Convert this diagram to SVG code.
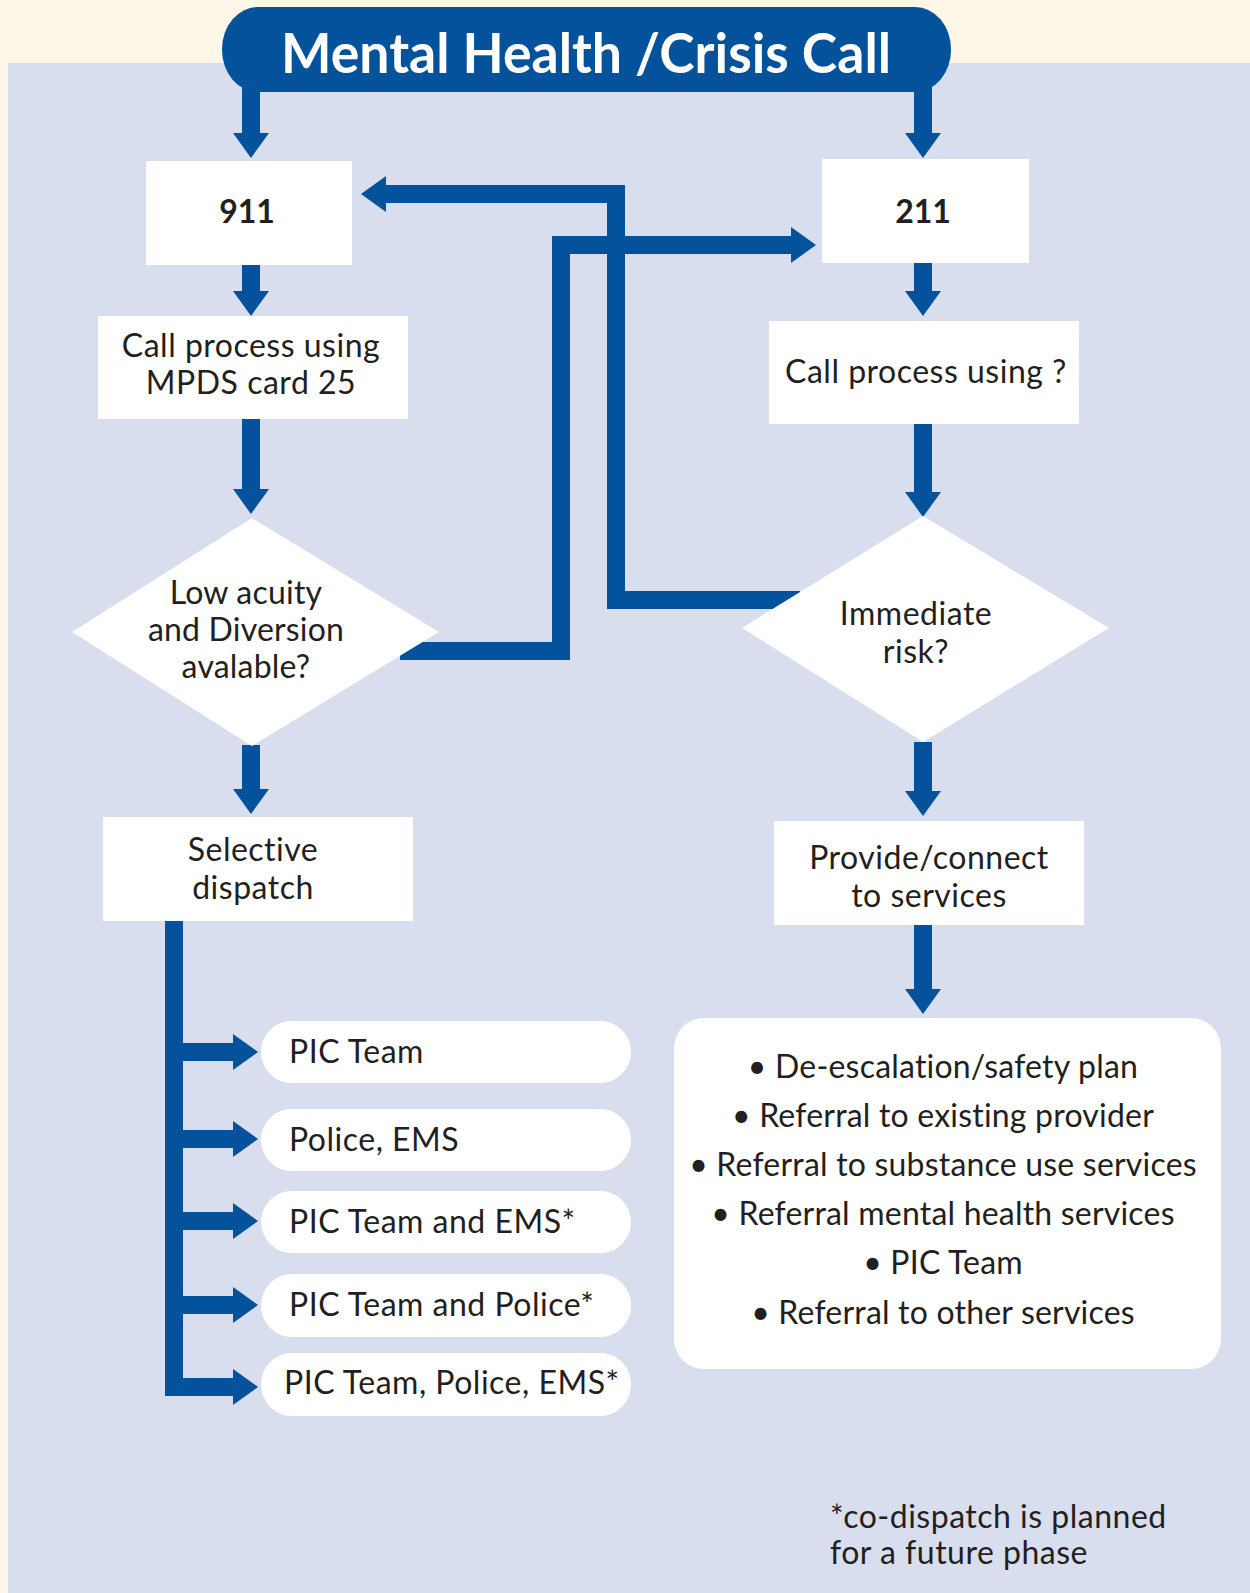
<svg xmlns="http://www.w3.org/2000/svg" width="1250" height="1593" viewBox="0 0 1250 1593">
<style>
.ln{fill:none;stroke:#03529B;stroke-width:18;stroke-linejoin:miter;stroke-linecap:butt}
.box{fill:#FFFFFF}
.t{font-family:Lato,"Open Sans",sans-serif;font-size:32px;letter-spacing:0.5px;fill:#231F20;text-anchor:middle}
.s{font-family:Lato,"Open Sans",sans-serif;font-size:32px;letter-spacing:0.2px;fill:#231F20;text-anchor:middle}
.tl{font-family:Lato,"Open Sans",sans-serif;font-size:32px;letter-spacing:0.5px;fill:#231F20}
.b{font-family:Lato,"Open Sans",sans-serif;font-size:32px;font-weight:bold;fill:#231F20;text-anchor:middle}
</style>
<defs>
<marker id="ah" markerUnits="userSpaceOnUse" markerWidth="25" markerHeight="36" viewBox="0 0 25 36" refX="0" refY="18" orient="auto">
<path d="M0,0 L25,18 L0,36 Z" fill="#03529B"/>
</marker>
</defs>
<rect x="0" y="0" width="1250" height="1593" fill="#FEF6E6"/>
<rect x="8" y="63" width="1242" height="1530" fill="#D8DEEE"/>
<g id="connectors">
<path class="ln" d="M251 80 V133" marker-end="url(#ah)"/>
<path class="ln" d="M923 80 V133" marker-end="url(#ah)"/>
<path class="ln" d="M251 265 V291" marker-end="url(#ah)"/>
<path class="ln" d="M923 263 V291" marker-end="url(#ah)"/>
<path class="ln" d="M251 419 V489" marker-end="url(#ah)"/>
<path class="ln" d="M923 424 V492" marker-end="url(#ah)"/>
<path class="ln" d="M251 745 V789" marker-end="url(#ah)"/>
<path class="ln" d="M923 742 V791" marker-end="url(#ah)"/>
<path class="ln" d="M923 925 V989" marker-end="url(#ah)"/>
<path class="ln" d="M400 651 H561 V245 H791" marker-end="url(#ah)"/>
<path class="ln" d="M800 600 H616 V194 H386" marker-end="url(#ah)"/>
<path class="ln" d="M174 915 V1387 H233" marker-end="url(#ah)"/>
<path class="ln" d="M174 1052 H233" marker-end="url(#ah)"/>
<path class="ln" d="M174 1139 H233" marker-end="url(#ah)"/>
<path class="ln" d="M174 1221 H233" marker-end="url(#ah)"/>
<path class="ln" d="M174 1305 H233" marker-end="url(#ah)"/>
</g>
<g id="title">
<rect x="222" y="7" width="729" height="85" rx="36" ry="42" fill="#03529B"/>
<text x="586" y="73" font-family="Lato,'Open Sans',sans-serif" font-size="55" font-weight="bold" fill="#FFFFFF" text-anchor="middle" textLength="610" lengthAdjust="spacingAndGlyphs">Mental Health /Crisis Call</text>
</g>
<g id="n911">
<rect class="box" x="146" y="161" width="206" height="104"/>
<text class="b" x="247" y="223">911</text>
</g>
<g id="n211">
<rect class="box" x="822" y="159" width="207" height="104"/>
<text class="b" x="923" y="223">211</text>
</g>
<g id="callLeft">
<rect class="box" x="98" y="316" width="310" height="103"/>
<text class="t" x="251" y="357">Call process using</text>
<text class="t" x="251" y="394">MPDS card 25</text>
</g>
<g id="callRight">
<rect class="box" x="769" y="321" width="310" height="103"/>
<text class="t" x="926" y="383">Call process using ?</text>
</g>
<g id="diamondLeft">
<polygon class="box" points="72,632 252,518 439,632 252,746"/>
<text class="s" x="246" y="604">Low acuity</text>
<text class="s" x="246" y="641">and Diversion</text>
<text class="s" x="246" y="678">avalable?</text>
</g>
<g id="diamondRight">
<polygon class="box" points="742,628 923,516 1109,628 923,742"/>
<text class="t" x="916" y="625">Immediate</text>
<text class="t" x="916" y="663">risk?</text>
</g>
<g id="selective">
<rect class="box" x="103" y="817" width="310" height="104"/>
<text class="t" x="253" y="861">Selective</text>
<text class="t" x="253" y="899">dispatch</text>
</g>
<g id="provide">
<rect class="box" x="774" y="821" width="310" height="104"/>
<text class="t" x="929" y="869">Provide/connect</text>
<text class="t" x="929" y="907">to services</text>
</g>
<g id="pic1">
<rect class="box" x="261" y="1021" width="370" height="62" rx="31"/>
<text class="tl" x="289" y="1063">PIC Team</text>
</g>
<g id="pic2">
<rect class="box" x="261" y="1109" width="370" height="62" rx="31"/>
<text class="tl" x="289" y="1151">Police, EMS</text>
</g>
<g id="pic3">
<rect class="box" x="261" y="1191" width="370" height="62" rx="31"/>
<text class="tl" x="289" y="1233">PIC Team and EMS*</text>
</g>
<g id="pic4">
<rect class="box" x="261" y="1274" width="370" height="63" rx="31"/>
<text class="tl" x="289" y="1316">PIC Team and Police*</text>
</g>
<g id="pic5">
<rect class="box" x="261" y="1353" width="370" height="63" rx="31"/>
<text class="tl" x="284" y="1394">PIC Team, Police, EMS*</text>
</g>
<g id="services">
<rect class="box" x="674" y="1018" width="547" height="351" rx="30"/>
<text class="s" x="943" y="1078">• De-escalation/safety plan</text>
<text class="s" x="943" y="1127">• Referral to existing provider</text>
<text class="s" x="943" y="1176">• Referral to substance use services</text>
<text class="s" x="943" y="1225">• Referral mental health services</text>
<text class="s" x="943" y="1274">• PIC Team</text>
<text class="s" x="943" y="1324">• Referral to other services</text>
</g>
<g id="footnote">
<text class="tl" x="830" y="1528">*co-dispatch is planned</text>
<text class="tl" x="830" y="1564">for a future phase</text>
</g>
</svg>
